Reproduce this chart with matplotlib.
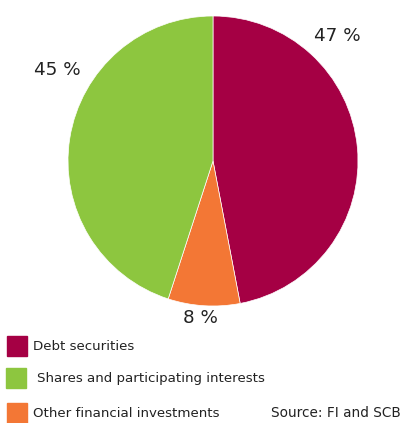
import matplotlib
matplotlib.use("Agg")
from matplotlib import pyplot as plt
from matplotlib.patches import Rectangle

labels = ["Debt securities", "Other financial investments", "Shares and participating interests"]
shares = [47, 8, 45]
colors = ["#A50044", "#F37735", "#8DC63F"]

# label spots around the pie (data units, radius 1)
label_pos = [(0.86, 0.86), (-0.09, -1.085), (-1.075, 0.63)]

W, H = 404, 423
fig = plt.figure(figsize=(W / 100, H / 100), dpi=100)

# pie centre at (213, 161) px from top-left, radius 145 px
cx, cy, r = 213, 161, 145
ax = fig.add_axes([(cx - r) / W, (H - cy - r) / H, 2 * r / W, 2 * r / H])
ax.pie(shares, colors=colors, startangle=90, counterclock=False,
       wedgeprops=dict(linewidth=0.5, edgecolor="white"))
ax.set_xlim(-1, 1)
ax.set_ylim(-1, 1)
ax.set_aspect("equal")
ax.axis("off")

for v, (x, y) in zip(shares, label_pos):
    ax.text(x, y, f"{v} %", ha="center", va="center", fontsize=13.2,
            color="#222222", clip_on=False)

# legend drawn by hand (order: debt, shares, other)
order = [0, 2, 1]
rows = [(7, 336, 33), (6, 368, 37), (7, 403, 33)]
for i, (x0, y0, tx) in zip(order, rows):
    fig.add_artist(Rectangle((x0 / W, (H - y0 - 20) / H), 20 / W, 20 / H,
                             transform=fig.transFigure, color=colors[i]))
    fig.text(tx / W, (H - y0 - 10) / H, labels[i], ha="left", va="center",
             fontsize=9.6, color="#222222")

fig.text(401 / W, (H - 413) / H, "Source: FI and SCB", ha="right", va="center",
         fontsize=9.8, color="#222222")

fig.savefig("out.png", dpi=100)
